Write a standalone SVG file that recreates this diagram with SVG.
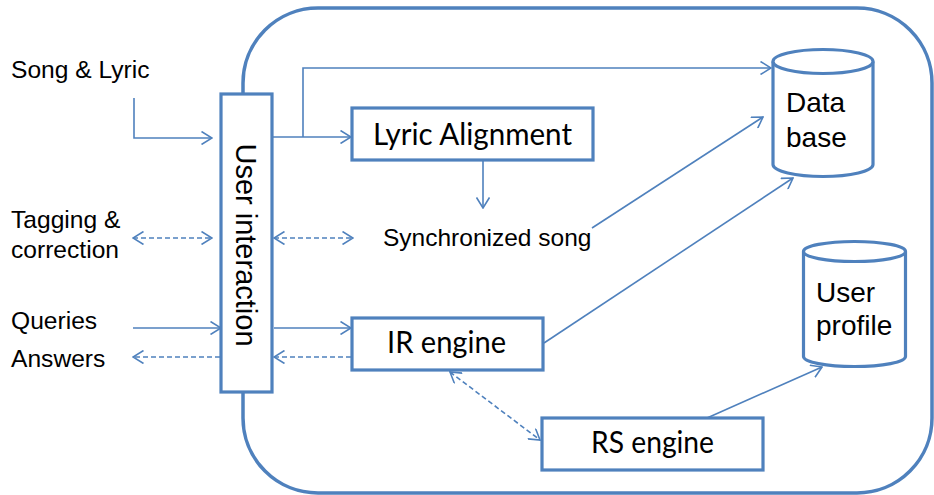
<svg xmlns="http://www.w3.org/2000/svg" width="934" height="495" viewBox="0 0 934 495">
<style>
.box{fill:#fff;stroke:#4F81BD;stroke-width:3.2}
.frame{fill:none;stroke:#4F81BD;stroke-width:3.5}
.ln{fill:none;stroke:#4F81BD;stroke-width:1.6}
.dash{stroke-dasharray:5 3}
.t{font-family:"Liberation Sans",Arial,sans-serif;fill:#000}
.c{font-family:Lato,"Liberation Sans",sans-serif;fill:#000;font-size:30px}
</style>
<defs>
<marker id="ah" viewBox="0 0 12 14" refX="11" refY="7" markerWidth="12" markerHeight="14" markerUnits="userSpaceOnUse" orient="auto-start-reverse">
<path d="M0.5,0.5 L11,7 L0.5,13.5" fill="none" stroke="#4F81BD" stroke-width="1.6"/>
</marker>
</defs>
<rect class="frame" x="243" y="8" width="689" height="485" rx="75" ry="75"/>

<g id="labels">
<text class="t" x="11" y="78" font-size="24.6">Song &amp; Lyric</text>
<text class="t" x="11" y="228" font-size="24.6">Tagging &amp;</text>
<text class="t" x="11" y="258" font-size="24.6">correction</text>
<text class="t" x="11" y="329" font-size="24.6">Queries</text>
<text class="t" x="11" y="367" font-size="24.6">Answers</text>
</g>

<g id="connectors">
<path class="ln" d="M134,98 V138 H212" marker-end="url(#ah)"/>
<path class="ln dash" d="M133,238 H212" marker-start="url(#ah)" marker-end="url(#ah)"/>
<path class="ln dash" d="M274,238 H353" marker-start="url(#ah)" marker-end="url(#ah)"/>
<path class="ln" d="M133,328 H221" marker-end="url(#ah)"/>
<path class="ln" d="M274,328 H351" marker-end="url(#ah)"/>
<path class="ln dash" d="M220,357 H133" marker-end="url(#ah)"/>
<path class="ln dash" d="M351,357 H274" marker-end="url(#ah)"/>
<path class="ln" d="M273,137 H351" marker-end="url(#ah)"/>
<path class="ln" d="M303,137 V68 H771" marker-end="url(#ah)"/>
<path class="ln" d="M483,161 V208" marker-end="url(#ah)"/>
<path class="ln" d="M592,228 L763,117" marker-end="url(#ah)"/>
<path class="ln" d="M544,343 L793,178" marker-end="url(#ah)"/>
<path class="ln dash" d="M450,372 L540,440" marker-start="url(#ah)" marker-end="url(#ah)"/>
<path class="ln" d="M707,418 L822,367" marker-end="url(#ah)"/>
</g>

<g id="user-interaction">
<rect class="box" x="221" y="94" width="51" height="298"/>
<text class="t" font-size="29" text-anchor="middle" transform="translate(246,245) rotate(90)" x="0" y="10.5">User interaction</text>
</g>

<g id="lyric-alignment">
<rect class="box" x="352" y="108" width="241" height="52"/>
<text class="c" x="373" y="145" textLength="199" lengthAdjust="spacingAndGlyphs">Lyric Alignment</text>
</g>

<g id="synchronized-song">
<text class="t" x="383" y="246" font-size="24.5">Synchronized song</text>
</g>

<g id="database">
<path class="box" d="M773,61.5 V164.5 A50,12 0 0 0 873,164.5 V61.5"/>
<ellipse class="box" cx="823" cy="61.5" rx="50" ry="12"/>
<text class="t" x="786" y="112" font-size="28">Data</text>
<text class="t" x="786" y="147" font-size="28">base</text>
</g>

<g id="user-profile">
<path class="box" d="M803.5,251.5 V356.5 A51,10 0 0 0 905.5,356.5 V251.5"/>
<ellipse class="box" cx="854.5" cy="251.5" rx="51" ry="10"/>
<text class="t" x="816" y="302" font-size="28">User</text>
<text class="t" x="816" y="335" font-size="28">profile</text>
</g>

<g id="ir-engine">
<rect class="box" x="352" y="318" width="191" height="52"/>
<text class="c" x="387" y="353" textLength="119" lengthAdjust="spacingAndGlyphs">IR engine</text>
</g>

<g id="rs-engine">
<rect class="box" x="542" y="418" width="221" height="52"/>
<text class="c" x="591" y="453" textLength="123" lengthAdjust="spacingAndGlyphs">RS engine</text>
</g>
</svg>
